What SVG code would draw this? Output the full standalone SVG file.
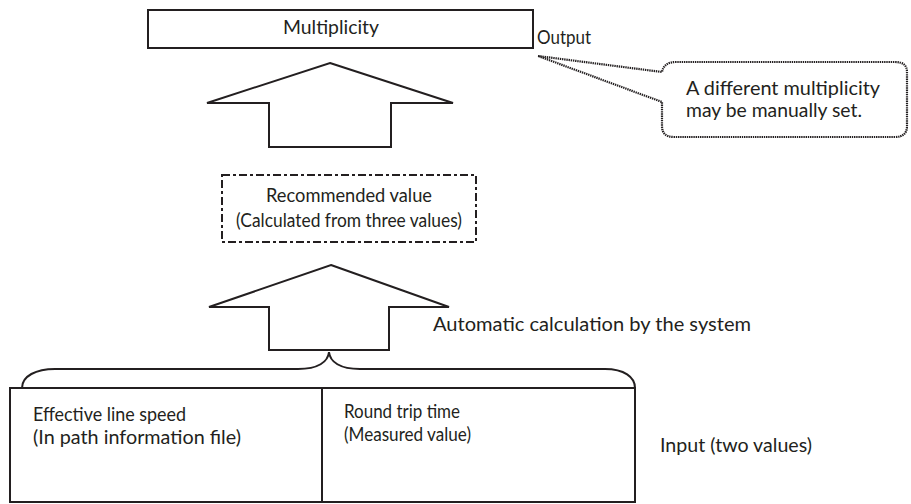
<svg xmlns="http://www.w3.org/2000/svg" width="911" height="504" viewBox="0 0 911 504">
<style>
text{font-family:"Lato","Open Sans","Liberation Sans",sans-serif;font-size:18.5px;fill:#231f20}
.ln{fill:none;stroke:#231f20;stroke-width:2;stroke-linejoin:miter}
.dd{fill:none;stroke:#231f20;stroke-width:2;stroke-dasharray:8 3 3 3}
.dot{fill:#fff;stroke:#231f20;stroke-width:2.2;stroke-dasharray:1.4 0.8}
.mid{text-anchor:middle}
</style>
<rect width="911" height="504" fill="#fff"/>
<g id="output">
<rect class="ln" x="148" y="10" width="385" height="38"/>
<text class="mid" x="331" y="34" textLength="96" lengthAdjust="spacingAndGlyphs">Multiplicity</text>
<text x="537" y="44" textLength="54" lengthAdjust="spacingAndGlyphs">Output</text>
</g>
<g id="callout">
<path class="dot" d="M538 56 L662 72 Q664 62 676 62 L895 62 Q907 62 907 72 L907 126 Q907 137 895 137 L674 137 Q662 137 662 126 L662 102 Z"/>
<text x="686" y="95" textLength="194" lengthAdjust="spacingAndGlyphs">A different multiplicity</text>
<text x="686" y="117" textLength="176" lengthAdjust="spacingAndGlyphs">may be manually set.</text>
</g>
<g id="recommended">
<rect class="dd" x="222" y="175" width="254" height="67"/>
<text class="mid" x="349" y="202" textLength="166" lengthAdjust="spacingAndGlyphs">Recommended value</text>
<text class="mid" x="349" y="227" textLength="226" lengthAdjust="spacingAndGlyphs">(Calculated from three values)</text>
</g>
<g id="inputs">
<rect class="ln" x="10" y="388" width="625" height="114"/>
<line class="ln" x1="322" y1="388" x2="322" y2="502"/>
<text x="33" y="421" textLength="153" lengthAdjust="spacingAndGlyphs">Effective line speed</text>
<text x="33" y="444" textLength="208" lengthAdjust="spacingAndGlyphs">(In path information file)</text>
<text x="344" y="418" textLength="116" lengthAdjust="spacingAndGlyphs">Round trip time</text>
<text x="344" y="441" textLength="127" lengthAdjust="spacingAndGlyphs">(Measured value)</text>
<text x="660" y="452" textLength="152" lengthAdjust="spacingAndGlyphs">Input (two values)</text>
</g>
<g id="connectors">
<path class="ln" d="M330 63 L453 103 L391 103 L391 147 L269 147 L269 103 L207 103 Z"/>
<path class="ln" d="M331 265 L449 307 L389 307 L389 350 L269 350 L269 307 L209 307 Z"/>
<path class="ln" d="M22 388 C22 376 36 369 55 369 L298 369 C318 369 328 362 329 352 C330 362 340 369 360 369 L605 369 C624 369 635 377 635 388"/>
<text x="433" y="331" textLength="318" lengthAdjust="spacingAndGlyphs">Automatic calculation by the system</text>
</g>
</svg>
